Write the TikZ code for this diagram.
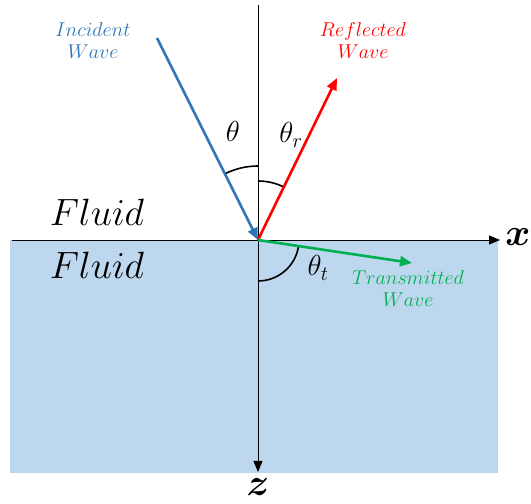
\RequirePackage{fix-cm}
\documentclass[tikz,border=0pt]{standalone}
\usepackage{amsmath,bm}
\usetikzlibrary{arrows.meta}
\definecolor{fluidblue}{RGB}{189,215,238}
\definecolor{incblue}{RGB}{46,117,182}
\definecolor{refred}{RGB}{255,0,0}
\definecolor{trgreen}{RGB}{0,176,80}
\tikzset{
  axis/.style={black, line width=0.9pt, -{Triangle[length=11pt,width=9pt]}},
  wave/.style={line width=2.6pt, -{Triangle[length=12pt,width=10pt]}},
  anglearc/.style={black, line width=1.6pt},
  wavelabel/.style={align=center, font=\fontsize{20}{22}\selectfont, inner sep=0pt},
  fluidlabel/.style={font=\fontsize{38}{40}\selectfont, inner sep=0pt},
  anglelabel/.style={font=\fontsize{29}{32}\selectfont, inner sep=0pt},
  axislabel/.style={font=\fontsize{38}{40}\selectfont, inner sep=0pt}
}
\begin{document}
\begin{tikzpicture}[x=1pt,y=1pt]
\useasboundingbox (0,0) rectangle (531,504);
% lower fluid region
\fill[fluidblue] (10,31) rectangle (498,264);
% coordinates
\coordinate (O) at (258,264);
\coordinate (ztop) at (258,499);
\coordinate (zend) at (258,32);
\coordinate (xstart) at (12,264);
\coordinate (xend) at (500,264);
\coordinate (inc) at (157,466);
\coordinate (refl) at (337,426);
\coordinate (trans) at (412,241);
% axes
\draw[axis] (ztop) -- (zend);
\draw[axis] (xstart) -- (xend);
% angle arcs
\draw[anglearc] ([shift={(90:74)}]O) arc[start angle=90, end angle=116.6, radius=74];
\draw[anglearc] ([shift={(64:59)}]O) arc[start angle=64, end angle=90, radius=59];
\draw[anglearc] ([shift={(-90:41)}]O) arc[start angle=-90, end angle=-8.5, radius=41];
% waves
\draw[wave, incblue] (inc) -- (O);
\draw[wave, refred] (O) -- (refl);
\draw[wave, trgreen] (O) -- (trans);
% labels
\node[wavelabel, text=incblue] (incl) at (93,463) {$Incident$\\$Wave$};
\node[wavelabel, text=refred] (refll) at (363,463) {$Reflected$\\$Wave$};
\node[wavelabel, text=trgreen] (transl) at (408,215) {$Transmitted$\\$Wave$};
\node[fluidlabel] (fl1) at (97,292) {$Fluid$};
\node[fluidlabel] (fl2) at (97,239) {$Fluid$};
\node[anglelabel] (th) at (233,373) {$\theta$};
\node[anglelabel] (thr) at (291,369) {$\theta_r$};
\node[anglelabel] (tht) at (318,236) {$\theta_t$};
\node[axislabel] (xl) at (518,267) {$\bm{x}$};
\node[axislabel] (zl) at (258,17) {$\bm{z}$};
\end{tikzpicture}
\end{document}
